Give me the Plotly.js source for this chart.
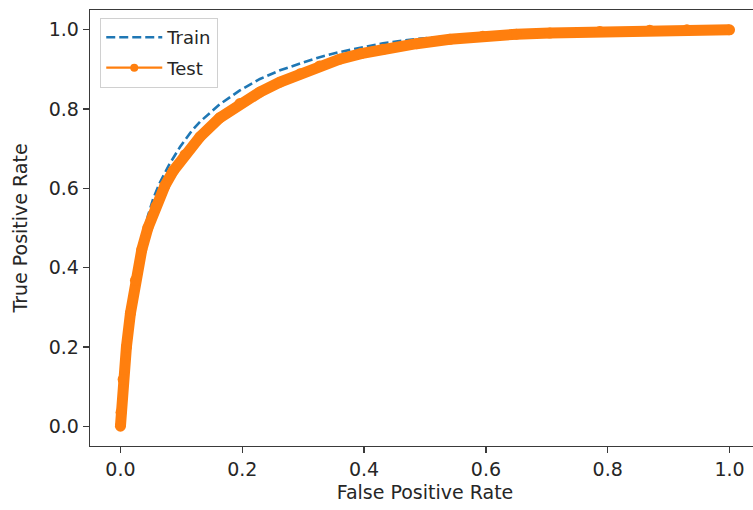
<!DOCTYPE html>
<html>
<head>
<meta charset="utf-8">
<script src="https://cdn.plot.ly/plotly-3.0.1.min.js"></script>
<style>
  html, body { margin: 0; padding: 0; background: #fff; overflow: hidden; }
  #chart { width: 775px; height: 510px; }
</style>
</head>
<body>
<div id="chart"></div>
<script>
// ROC curve points (false positive rate, true positive rate)
const trainFpr = [0, 0.001, 0.004, 0.0098, 0.0164, 0.0246, 0.035, 0.045, 0.054, 0.064, 0.080, 0.098, 0.117, 0.1305, 0.163, 0.196, 0.229, 0.262, 0.295, 0.327, 0.360, 0.395, 0.431, 0.486, 0.541, 0.595, 0.65, 0.705, 0.787, 0.869, 0.93, 1.0];
const trainTpr = [0, 0.040, 0.125, 0.215, 0.300, 0.385, 0.462, 0.530, 0.575, 0.612, 0.660, 0.705, 0.745, 0.768, 0.812, 0.847, 0.876, 0.898, 0.915, 0.931, 0.944, 0.955, 0.966, 0.977, 0.984, 0.988, 0.991, 0.994, 0.997, 0.999, 1.0, 1.0];

const testFpr = [0, 0.001, 0.0044, 0.0098, 0.0164, 0.0246, 0.035, 0.045, 0.058, 0.073, 0.087, 0.106, 0.1305, 0.163, 0.196, 0.229, 0.262, 0.295, 0.327, 0.360, 0.395, 0.431, 0.486, 0.541, 0.595, 0.65, 0.705, 0.787, 0.869, 0.93, 1.0];
const testTpr = [0, 0.035, 0.118, 0.200, 0.285, 0.368, 0.445, 0.500, 0.554, 0.607, 0.645, 0.685, 0.730, 0.778, 0.814, 0.843, 0.868, 0.889, 0.909, 0.926, 0.940, 0.951, 0.965, 0.976, 0.984, 0.989, 0.992, 0.996, 0.999, 1.0, 1.0];

const tickVals = [0, 0.2, 0.4, 0.6, 0.8, 1.0];
const tickText = ['0.0', '0.2', '0.4', '0.6', '0.8', '1.0'];

const BLUE = '#1f77b4';
const ORANGE = '#ff7f0e';
const INK = '#262626';
const FONT = 'DejaVu Sans, sans-serif';

const traces = [
  {
    x: trainFpr, y: trainTpr, name: 'Train', type: 'scatter', mode: 'lines',
    line: { color: BLUE, width: 2.6, dash: '9px,4px' },
    legendgroup: 'a'
  },
  {
    // thin line with dot markers: the legend entry for the test curve
    x: testFpr, y: testTpr, name: 'Test', type: 'scatter', mode: 'lines+markers',
    line: { color: ORANGE, width: 2.4 },
    marker: { color: ORANGE, size: 8 },
    legendgroup: 'b'
  },
  {
    // dense point markers along the test curve form a thick band
    x: testFpr, y: testTpr, name: 'Test', type: 'scatter', mode: 'lines+markers',
    line: { color: ORANGE, width: 11 },
    marker: { color: ORANGE, size: 11 },
    showlegend: false, hoverinfo: 'skip'
  }
];

const axisCommon = {
  showgrid: false, zeroline: false,
  showline: true, mirror: true, linecolor: '#3a3a3a', linewidth: 1.3,
  ticks: 'outside', ticklen: 6, tickwidth: 1.3, tickcolor: '#3a3a3a',
  tickvals: tickVals, ticktext: tickText,
  tickfont: { family: FONT, size: 19, color: INK }
};

const layout = {
  width: 775, height: 510,
  margin: { l: 90, r: 15, t: 10, b: 64 },
  paper_bgcolor: '#fff', plot_bgcolor: '#fff',
  font: { family: FONT, size: 19, color: INK },
  showlegend: true,
  legend: {
    x: 0.015, y: 0.982, xanchor: 'left', yanchor: 'top',
    bgcolor: 'rgba(255,255,255,0.8)', bordercolor: '#d0d0d0', borderwidth: 1.2,
    font: { family: FONT, size: 18, color: INK },
    itemwidth: 56,
    tracegroupgap: 4
  },
  xaxis: Object.assign({}, axisCommon, {
    range: [-0.05, 1.05],
    title: { text: 'False Positive Rate', font: { family: FONT, size: 19, color: INK }, standoff: 6 }
  }),
  yaxis: Object.assign({}, axisCommon, {
    range: [-0.05, 1.05],
    title: { text: 'True Positive Rate', font: { family: FONT, size: 19, color: INK }, standoff: 16 }
  })
};

Plotly.newPlot('chart', traces, layout, { displayModeBar: false, staticPlot: true });
</script>
</body>
</html>
